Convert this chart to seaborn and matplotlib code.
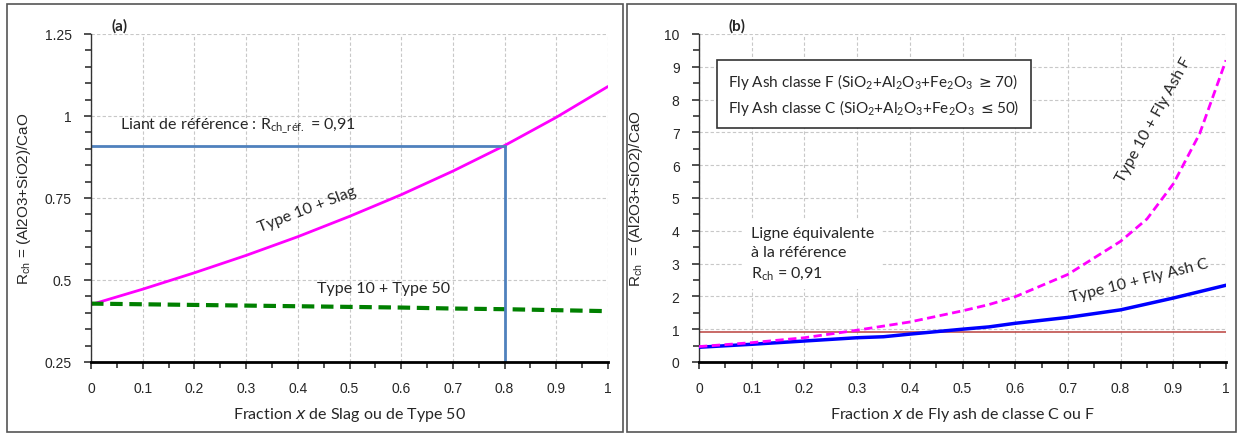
import numpy as np
import pandas as pd
import seaborn as sns
import matplotlib
matplotlib.use("Agg")
import matplotlib.pyplot as plt
from matplotlib.ticker import MultipleLocator
from matplotlib.patches import Rectangle

# ---- data: panel (a) ----
x_slag = [0.0, 0.1, 0.2, 0.3, 0.4, 0.5, 0.6, 0.7, 0.8, 0.9, 1.0]
r_slag = [0.425, 0.472, 0.522, 0.575, 0.632, 0.694, 0.760, 0.832, 0.91, 0.996, 1.09]
x_t50 = [0.0, 0.1, 0.2, 0.3, 0.4, 0.5, 0.6, 0.7, 0.8, 0.9, 1.0]
r_t50 = [0.428, 0.426, 0.424, 0.422, 0.420, 0.418, 0.416, 0.413, 0.411, 0.408, 0.405]
r_ref = 0.91
x_ref = 0.8

# ---- data: panel (b) ----
x_fac = [0.0, 0.1, 0.2, 0.3, 0.35, 0.4, 0.5, 0.55, 0.6, 0.7, 0.8, 0.9, 1.0]
r_fac = [0.45, 0.54, 0.64, 0.74, 0.77, 0.85, 1.0, 1.07, 1.18, 1.36, 1.59, 1.95, 2.34]
x_faf = [0.0, 0.1, 0.2, 0.3, 0.4, 0.5, 0.55, 0.6, 0.7, 0.8, 0.85, 0.9, 0.95, 1.0]
r_faf = [0.47, 0.59, 0.74, 0.97, 1.22, 1.56, 1.75, 1.99, 2.67, 3.68, 4.36, 5.43, 6.96, 9.2]

x_ticks = [0, 0.1, 0.2, 0.3, 0.4, 0.5, 0.6, 0.7, 0.8, 0.9, 1]
x_ticklabels = ["0", "0.1", "0.2", "0.3", "0.4", "0.5", "0.6", "0.7", "0.8", "0.9", "1"]
ya_ticks = [0.25, 0.5, 0.75, 1.0, 1.25]
ya_ticklabels = ["0.25", "0.5", "0.75", "1", "1.25"]
yb_ticks = list(range(0, 11))

sns.set_style("white")
TXT = ["Lato", "DejaVu Sans"]
NUM = ["Liberation Sans", "DejaVu Sans"]
plt.rcParams["font.family"] = NUM

fig = plt.figure(figsize=(12.38, 4.35), dpi=100)
W, H = 1238.0, 435.0

def px_axes(x0, x1, ytop, ybot):
    return fig.add_axes([x0 / W, 1 - ybot / H, (x1 - x0) / W, (ybot - ytop) / H])

# panel frames
for (a, b) in [(7, 623), (627, 1236)]:
    fig.patches.append(Rectangle((a / W, 2 / H), (b - a) / W, 428 / H,
                                 transform=fig.transFigure, fill=False,
                                 edgecolor="#555555", lw=1.2))

axa = px_axes(91, 608, 35, 363)
axb = px_axes(699, 1226, 35, 363)

def style_axis(ax):
    for s in ["top", "right"]:
        ax.spines[s].set_visible(False)
    ax.spines["bottom"].set_color("black")
    ax.spines["bottom"].set_linewidth(2.0)
    ax.spines["left"].set_color("#333333")
    ax.spines["left"].set_linewidth(1.0)
    ax.grid(True, which="major", color="#c8c8c8", linestyle=(0, (3, 2)), lw=0.8)
    ax.set_axisbelow(True)
    ax.tick_params(which="major", direction="out", length=5, width=1.1, labelsize=10,
                   left=True, bottom=True, color="#222222")
    ax.tick_params(axis="x", which="major", pad=9)
    ax.tick_params(axis="y", which="major", pad=9)
    ax.tick_params(which="minor", direction="out", length=4, width=1.1,
                   left=True, bottom=True, color="#222222")
    ax.set_xlim(0, 1)
    ax.set_xticks(x_ticks)
    ax.set_xticklabels(x_ticklabels)
    ax.xaxis.set_minor_locator(MultipleLocator(0.05))

# ---- panel (a) ----
style_axis(axa)
df_slag = pd.DataFrame({"x": x_slag, "r": r_slag})
df_t50 = pd.DataFrame({"x": x_t50, "r": r_t50})
sns.lineplot(data=df_slag, x="x", y="r", ax=axa, color="#ff00ff", lw=2.0)
sns.lineplot(data=df_t50, x="x", y="r", ax=axa, color="#008000", lw=3.0,
             linestyle=(0, (3, 1.6)))
axa.plot([0, x_ref], [r_ref, r_ref], color="#4f81bd", lw=2.0)
axa.plot([x_ref, x_ref], [0.25, r_ref], color="#4f81bd", lw=2.0)
axa.set_ylim(0.25, 1.25)
axa.set_yticks(ya_ticks)
axa.set_yticklabels(ya_ticklabels)
axa.yaxis.set_minor_locator(MultipleLocator(0.05))
axa.set_xlabel(r"Fraction $\mathit{x}$ de Slag ou de Type 50", family=TXT,
               fontsize=11.5, labelpad=7)
axa.set_ylabel(r"R$\mathregular{_{ch}}$ = (Al2O3+SiO2)/CaO", fontsize=11, labelpad=8)
axa.text(0.056, 1.277, "(a)", family=TXT, fontsize=11, fontweight="bold",
         ha="center", va="center", clip_on=False)
axa.text(0.057, 0.972, r"Liant de référence : R$\mathregular{_{ch\_réf.}}$ = 0,91",
         family=TXT, fontsize=11.5, ha="left", va="center")
axa.text(0.417, 0.718, "Type 10 + Slag", family=TXT, fontsize=11.5,
         rotation=21, ha="center", va="center")
axa.text(0.566, 0.475, "Type 10 + Type 50", family=TXT, fontsize=11.5,
         ha="center", va="center")

# ---- panel (b) ----
style_axis(axb)
df_c = pd.DataFrame({"x": x_fac, "r": r_fac})
df_f = pd.DataFrame({"x": x_faf, "r": r_faf})
axb.axhline(r_ref, color="#c0504d", lw=1.2, zorder=2)
sns.lineplot(data=df_c, x="x", y="r", ax=axb, color="#0000ff", lw=2.5, zorder=3)
sns.lineplot(data=df_f, x="x", y="r", ax=axb, color="#ff00ff", lw=2.0,
             linestyle=(0, (3, 1.6)), zorder=3)
axb.set_ylim(0, 10)
axb.set_yticks(yb_ticks)
axb.yaxis.set_minor_locator(MultipleLocator(0.5))
axb.set_xlabel(r"Fraction $\mathit{x}$ de Fly ash de classe C ou F", family=TXT,
               fontsize=11.5, labelpad=7)
axb.set_ylabel(r"R$\mathregular{_{ch}}$  = (Al2O3+SiO2)/CaO", fontsize=11, labelpad=14)
axb.text(0.072, 10.27, "(b)", family=TXT, fontsize=11, fontweight="bold",
         ha="center", va="center", clip_on=False)
box_txt = ("Fly Ash classe F (SiO$\\mathregular{_2}$+Al$\\mathregular{_2}$O$\\mathregular{_3}$"
           "+Fe$\\mathregular{_2}$O$\\mathregular{_3}$ $\\geq$70)\n"
           "Fly Ash classe C (SiO$\\mathregular{_2}$+Al$\\mathregular{_2}$O$\\mathregular{_3}$"
           "+Fe$\\mathregular{_2}$O$\\mathregular{_3}$ $\\leq$50)")
axb.text(0.055, 8.17, box_txt, family=TXT, fontsize=11, ha="left", va="center",
         linespacing=1.35,
         bbox=dict(boxstyle="square,pad=0.75", facecolor="white", edgecolor="#333333",
                   lw=1.2))
axb.text(0.098, 3.3, "Ligne équivalente\nà la référence\nR$\\mathregular{_{ch}}$ = 0,91",
         family=TXT, fontsize=11.5, ha="left", va="center", linespacing=1.45,
         bbox=dict(boxstyle="square,pad=0.5", facecolor="white", edgecolor="none"))
axb.text(0.835, 2.5, "Type 10 + Fly Ash C", family=TXT, fontsize=11.5,
         rotation=14, ha="center", va="center")
axb.text(0.864, 7.4, "Type 10 + Fly Ash F", family=TXT, fontsize=11.5,
         rotation=61, ha="center", va="center")

fig.savefig("out.png", dpi=100, facecolor="white")
